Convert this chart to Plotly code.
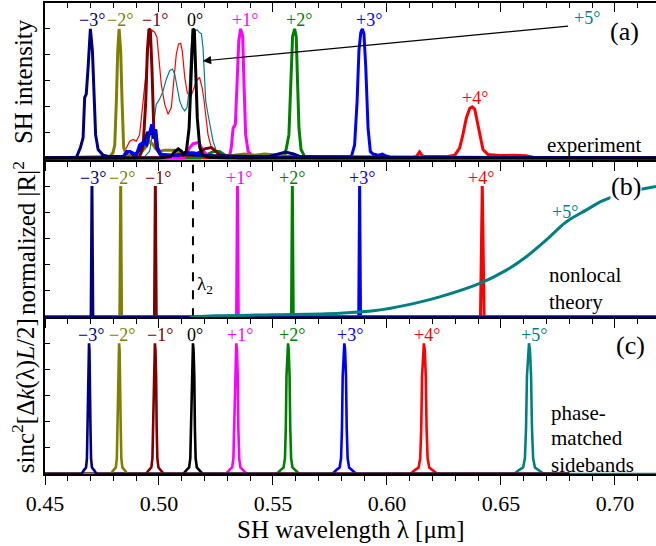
import plotly.graph_objects as go

FONT = "Liberation Serif"

NAVY, OLIVE, MAROON, BLACK = "#000080", "#808000", "#800000", "#000000"
MAGENTA, GREEN, BLUE, RED, TEAL = "#FF00FF", "#008000", "#0000FF", "#FF0000", "#008080"

X_RANGE = [0.45, 0.718]

# ---------------- panel (a): experiment ----------------
A_NAVY_X = [0.450, 0.4638, 0.4655, 0.4667, 0.4674, 0.4681, 0.4689, 0.4699, 0.4708, 0.4715, 0.4722, 0.4733,
            0.4755, 0.4784, 0.4840, 0.4860, 0.4872, 0.4890, 0.4915, 0.4935, 0.4950, 0.4959, 0.4968, 0.4975,
            0.4986, 0.4995, 0.5010, 0.5060, 0.5120, 0.5160, 0.5250, 0.5400, 0.5480, 0.5520, 0.5555, 0.5590,
            0.5620, 0.5800, 0.718]
A_NAVY_Y = [0, 0.005, 0.078, 0.156, 0.468, 0.494, 0.70, 1.0, 0.83, 0.44, 0.18, 0.065,
            0.02, 0.01, 0.01, 0.04, 0.05, 0.02, 0.06, 0.12, 0.20, 0.18, 0.24, 0.15,
            0.22, 0.06, 0.02, 0.02, 0.03, 0.02, 0.015, 0.01, 0.01, 0.03, 0.045, 0.03,
            0.01, 0.005, 0]

A_OLIVE_X = [0.450, 0.4784, 0.4798, 0.4806, 0.4813, 0.4819, 0.4825, 0.4832, 0.4838, 0.4845, 0.4857, 0.4880,
             0.4915, 0.4940, 0.4959, 0.4975, 0.4986, 0.5000, 0.5025, 0.5069, 0.5090, 0.5112, 0.5179, 0.5266,
             0.5330, 0.5376, 0.5420, 0.5463, 0.5529, 0.5617, 0.718]
A_OLIVE_Y = [0, 0.01, 0.04, 0.10, 0.44, 0.83, 1.0, 0.83, 0.44, 0.08, 0.02, 0.02,
             0.03, 0.08, 0.13, 0.10, 0.07, 0.05, 0.06, 0.06, 0.04, 0.02, 0.02, 0.01,
             0.02, 0.03, 0.02, 0.03, 0.02, 0.0, 0]

A_MAROON_X = [0.450, 0.4900, 0.4915, 0.4930, 0.4942, 0.4949, 0.4956, 0.4962, 0.4969, 0.4977, 0.4988, 0.5003,
              0.5050, 0.5150, 0.5185, 0.5200, 0.5230, 0.5245, 0.5270, 0.5350, 0.718]
A_MAROON_Y = [0, 0.0, 0.01, 0.08, 0.44, 0.83, 1.0, 0.99, 0.70, 0.23, 0.08, 0.03,
              0.02, 0.02, 0.05, 0.07, 0.08, 0.06, 0.02, 0.0, 0]

A_BLACK_X = [0.450, 0.5000, 0.5050, 0.5070, 0.5085, 0.5100, 0.5105, 0.5120, 0.5132, 0.5139, 0.5145, 0.5149,
             0.5155, 0.5161, 0.5168, 0.5179, 0.5193, 0.5215, 0.5300, 0.718]
A_BLACK_Y = [0, 0.0, 0.01, 0.05, 0.07, 0.05, 0.03, 0.05, 0.23, 0.57, 0.91, 1.0,
             0.99, 0.70, 0.31, 0.08, 0.02, 0.005, 0.0, 0]

A_MAGENTA_X = [0.450, 0.5110, 0.5135, 0.5150, 0.5175, 0.5195, 0.5220, 0.5310, 0.5317, 0.5325, 0.5335, 0.5342,
               0.5350, 0.5358, 0.5367, 0.5373, 0.5380, 0.5391, 0.5412, 0.718]
A_MAGENTA_Y = [0, 0.0, 0.08, 0.11, 0.12, 0.05, 0.01, 0.01, 0.08, 0.23, 0.26, 0.57,
               0.91, 1.0, 0.94, 0.57, 0.18, 0.05, 0.01, 0]

A_GREEN_X = [0.450, 0.5180, 0.5215, 0.5240, 0.5265, 0.5290, 0.5400, 0.5551, 0.5559, 0.5570, 0.5578, 0.5586,
             0.5595, 0.5602, 0.5608, 0.5614, 0.5623, 0.5639, 0.5700, 0.718]
A_GREEN_Y = [0, 0.0, 0.03, 0.05, 0.05, 0.02, 0.01, 0.01, 0.08, 0.18, 0.57, 0.94,
             1.0, 0.94, 0.57, 0.23, 0.065, 0.01, 0.0, 0]

A_BLUE_X = [0.450, 0.4840, 0.4859, 0.4872, 0.4885, 0.4900, 0.4915, 0.4930, 0.4946, 0.4958, 0.4968, 0.4975,
            0.4981, 0.4994, 0.5010, 0.5080, 0.5120, 0.5150, 0.5180, 0.5220, 0.5400, 0.5844, 0.5858, 0.5869,
            0.5877, 0.5885, 0.5892, 0.5899, 0.5907, 0.5917, 0.5927, 0.5939, 0.5961, 0.5980, 0.5990, 0.6012,
            0.718]
A_BLUE_Y = [0, 0.0, 0.05, 0.05, 0.04, 0.02, 0.10, 0.12, 0.10, 0.20, 0.26, 0.20,
            0.22, 0.08, 0.02, 0.02, 0.04, 0.04, 0.03, 0.01, 0.0, 0.01, 0.10, 0.44,
            0.83, 0.97, 1.0, 0.96, 0.70, 0.23, 0.05, 0.03, 0.02, 0.03, 0.02, 0.005,
            0]

A_RED_X = [0.450, 0.6100, 0.6129, 0.6143, 0.6158, 0.6260, 0.6297, 0.6319, 0.6333, 0.6348, 0.6363, 0.6374,
           0.6385, 0.6395, 0.6407, 0.6421, 0.6443, 0.6494, 0.6553, 0.6611, 0.6640, 0.718]
A_RED_Y = [0, 0.0, 0.01, 0.047, 0.01, 0.01, 0.02, 0.078, 0.18, 0.31, 0.385, 0.395,
           0.377, 0.286, 0.18, 0.065, 0.026, 0.018, 0.02, 0.016, 0.005, 0]

A_RED_THIN_X = [0.4842, 0.4857, 0.4872, 0.4886, 0.4901, 0.4915, 0.4926, 0.4937, 0.4948, 0.4959, 0.4971, 0.4981,
                0.4991, 0.5000, 0.5010, 0.5025, 0.5040, 0.5054, 0.5065, 0.5076, 0.5086, 0.5095, 0.5102, 0.5113,
                0.5124, 0.5138, 0.5149, 0.5164, 0.5178, 0.5189, 0.5196, 0.5205, 0.5215, 0.5222, 0.5230, 0.5244,
                0.5259, 0.5281]
A_RED_THIN_Y = [0.01, 0.078, 0.13, 0.143, 0.13, 0.18, 0.364, 0.571, 0.779, 0.935, 0.987, 0.974,
                0.935, 0.753, 0.571, 0.416, 0.338, 0.39, 0.571, 0.805, 0.883, 0.888, 0.831, 0.623,
                0.506, 0.468, 0.519, 0.597, 0.623, 0.545, 0.468, 0.338, 0.18, 0.13, 0.078, 0.065,
                0.026, 0.01]

A_TEAL_THIN_X = [0.4937, 0.4959, 0.4971, 0.4981, 0.4988, 0.4997, 0.5006, 0.5018, 0.5032, 0.5047, 0.5059, 0.5069,
                 0.5079, 0.5091, 0.5102, 0.5113, 0.5123, 0.5132, 0.5139, 0.5146, 0.5157, 0.5167, 0.5176, 0.5186,
                 0.5193, 0.5200, 0.5205, 0.5215, 0.5225, 0.5237, 0.5252, 0.5266, 0.5295]
A_TEAL_THIN_Y = [0.01, 0.052, 0.18, 0.31, 0.416, 0.44, 0.468, 0.519, 0.61, 0.675, 0.688, 0.649,
                 0.545, 0.44, 0.39, 0.364, 0.39, 0.519, 0.805, 0.961, 0.982, 0.992, 0.974, 0.961,
                 0.857, 0.571, 0.44, 0.338, 0.234, 0.13, 0.052, 0.018, 0.005]

A_LABELS = ["−3°", "−2°", "−1°", "0°", "+1°", "+2°", "+3°", "+4°", "+5°"]
A_LABEL_X = [0.4706, 0.4828, 0.4982, 0.5157, 0.5379, 0.5613, 0.5920, 0.6385, 0.6878]
A_LABEL_Y = [1.068, 1.068, 1.068, 1.068, 1.068, 1.068, 1.068, 0.464, 1.081]
A_LABEL_COLORS = [NAVY, OLIVE, MAROON, BLACK, MAGENTA, GREEN, BLUE, RED, TEAL]
A_ARROW_FROM = (0.6801, 1.022)
A_ARROW_TO = (0.5192, 0.751)

# ---------------- panel (b): nonlocal theory ----------------
B_CENTERS = [0.4706, 0.4832, 0.4984, 0.5344, 0.5585, 0.5880, 0.6418]
B_HALFWIDTH = [0.0004, 0.0004, 0.0004, 0.0004, 0.0004, 0.0004, 0.0008]
B_PEAK = 1.0
B_COLORS = [NAVY, OLIVE, MAROON, MAGENTA, GREEN, BLUE, RED]
B_LABELS = ["−3°", "−2°", "−1°", "+1°", "+2°", "+3°", "+4°"]
B_LABEL_X = [0.4711, 0.4838, 0.4996, 0.5351, 0.5583, 0.5890, 0.6414]
B_LABEL_Y = 1.063
B5_X = [0.5135, 0.5252, 0.5500, 0.5793, 0.5950, 0.6085, 0.6231, 0.6407, 0.6524, 0.6611, 0.6699, 0.6787,
        0.6875, 0.6947, 0.7050, 0.718]
B5_Y = [0.0, 0.01, 0.018, 0.03, 0.05, 0.092, 0.155, 0.258, 0.359, 0.461, 0.589, 0.728,
        0.818, 0.889, 0.95, 0.996]
B5_LABEL = (0.6782, 0.80)
LAMBDA2 = 0.5149
LAMBDA2_TOP = 1.162

# ---------------- panel (c): phase-matched sidebands ----------------
C_CENTERS = [0.4693, 0.4825, 0.4982, 0.5149, 0.5339, 0.5566, 0.5813, 0.6162, 0.6623]
C_WIDTH_SCALE = [0.5, 0.55, 0.6, 0.65, 0.7, 0.75, 0.8, 0.9, 1.0]
C_COLORS = [NAVY, OLIVE, MAROON, BLACK, MAGENTA, GREEN, BLUE, RED, TEAL]
C_LABELS = ["−3°", "−2°", "−1°", "0°", "+1°", "+2°", "+3°", "+4°", "+5°"]
C_LABEL_X = [0.4703, 0.4838, 0.5006, 0.5160, 0.5357, 0.5583, 0.5836, 0.6176, 0.6643]
C_LABEL_Y = 1.063
PROFILE_DX = [-0.0066, -0.0044, -0.0026, -0.0018, -0.0013, -0.0009, -0.0004, 0.0,
              0.0004, 0.0009, 0.0013, 0.0018, 0.0026, 0.0044, 0.0066]
PROFILE_Y = [0.0, 0.03, 0.05, 0.12, 0.35, 0.75, 0.95, 1.0, 0.95, 0.75, 0.35, 0.12, 0.05, 0.03, 0.0]

fig = go.Figure()


def line(x, y, color, width, xa, ya, dash=None, shape="linear"):
    fig.add_trace(go.Scatter(x=x, y=y, mode="lines", xaxis=xa, yaxis=ya,
                             line=dict(color=color, width=width, dash=dash, shape=shape),
                             hoverinfo="skip", showlegend=False))


# panel (a)
line(A_RED_THIN_X, A_RED_THIN_Y, RED, 1.2, "x", "y")
line(A_TEAL_THIN_X, A_TEAL_THIN_Y, TEAL, 1.2, "x", "y")
for xs, ys, c in [(A_RED_X, A_RED_Y, RED), (A_GREEN_X, A_GREEN_Y, GREEN),
                  (A_MAGENTA_X, A_MAGENTA_Y, MAGENTA), (A_OLIVE_X, A_OLIVE_Y, OLIVE),
                  (A_MAROON_X, A_MAROON_Y, MAROON), (A_NAVY_X, A_NAVY_Y, NAVY),
                  (A_BLUE_X, A_BLUE_Y, BLUE), (A_BLACK_X, A_BLACK_Y, BLACK)]:
    line(xs, ys, c, 3, "x", "y")

# panel (b)  (drawn from last to first so that the navy baseline ends on top)
for c, hw, col in reversed(list(zip(B_CENTERS, B_HALFWIDTH, B_COLORS))):
    line([X_RANGE[0], c - hw, c, c + hw, X_RANGE[1]], [0, 0, B_PEAK, 0, 0], col, 3, "x2", "y2")
line([LAMBDA2, LAMBDA2], [0, LAMBDA2_TOP], BLACK, 2, "x2", "y2", dash="dash")
line(B5_X, B5_Y, TEAL, 3, "x2", "y2", shape="spline")

# panel (c)
for i in [8, 7, 6, 5, 4, 3, 2, 1, 0]:
    c, s, col = C_CENTERS[i], C_WIDTH_SCALE[i], C_COLORS[i]
    xs = [c + s * d for d in PROFILE_DX]
    if i == 8:
        xs = [0.60] + xs + [X_RANGE[1]]
    else:
        xs = [X_RANGE[0]] + xs + [0.68]
    ys = [0] + PROFILE_Y + [0]
    line(xs, ys, col, 2.6, "x3", "y3")

# dummy for top axis
fig.add_trace(go.Scatter(x=[0.5], y=[None], xaxis="x4", yaxis="y", showlegend=False, hoverinfo="skip"))

ann = []


def text(x, y, s, color="black", size=18, xref="x", yref="y", xanchor="center", yanchor="middle", **kw):
    ann.append(dict(x=x, y=y, text=s, xref=xref, yref=yref, showarrow=False, xanchor=xanchor,
                    yanchor=yanchor, font=dict(family=FONT, size=size, color=color), **kw))


for s, x, y, c in zip(A_LABELS, A_LABEL_X, A_LABEL_Y, A_LABEL_COLORS):
    text(x, y, s, c)
ann.append(dict(x=A_ARROW_TO[0], y=A_ARROW_TO[1], ax=A_ARROW_FROM[0], ay=A_ARROW_FROM[1],
                xref="x", yref="y", axref="x", ayref="y", text="", showarrow=True,
                arrowhead=2, arrowsize=1.4, arrowwidth=1.2, arrowcolor="black"))
text(0.7043, 0.977, "(a)", size=26)
text(0.6911, 0.10, "experiment", size=21)

for s, x, c in zip(B_LABELS, B_LABEL_X, B_COLORS):
    text(x, B_LABEL_Y, s, c, yref="y2")
text(B5_LABEL[0], B5_LABEL[1], "+5°", TEAL, yref="y2")
text(0.7047, 0.996, "(b)", size=26, yref="y2", bgcolor="white", borderpad=0)
text(0.5157, 0.245, "λ<sub>2</sub>", size=19, yref="y2", xanchor="left")
text(0.6702, 0.321, "nonlocal", size=21, yref="y2", xanchor="left")
text(0.6702, 0.115, "theory", size=21, yref="y2", xanchor="left")

for s, x, c in zip(C_LABELS, C_LABEL_X, C_COLORS):
    text(x, C_LABEL_Y, s, c, yref="y3")
text(0.7069, 0.986, "(c)", size=26, yref="y3")
text(0.6711, 0.466, "phase-", size=21, yref="y3", xanchor="left")
text(0.6711, 0.275, "matched", size=21, yref="y3", xanchor="left")
text(0.6711, 0.069, "sidebands", size=21, yref="y3", xanchor="left")

# axis titles
text(-0.035, 0.8335, "SH intensity", size=25, xref="paper", yref="paper", textangle=-90)
text(-0.035, 0.5, "normalized |R|<sup>2</sup>", size=25, xref="paper", yref="paper", textangle=-90)
text(-0.035, 0.1665, "sinc<sup>2</sup>[Δ<i>k</i>(λ)<i>L</i>/2]", size=25, xref="paper", yref="paper",
     textangle=-90)
text(0.5, -0.117, "SH wavelength λ [μm]", size=25, xref="paper", yref="paper")


def xax(anchor, labels=False, ticks="outside", side="bottom", overlaying=None):
    d = dict(range=X_RANGE, anchor=anchor, domain=[0, 1], side=side, showline=True, linecolor="black",
             linewidth=1.5, ticks=ticks, ticklen=9, tickwidth=1.3, tickcolor="black",
             tick0=0.45, dtick=0.05, tickformat=".2f", showticklabels=labels, showgrid=False,
             zeroline=False, tickfont=dict(family=FONT, size=22, color="black"),
             minor=dict(dtick=0.01, tick0=0.45, ticks=ticks, ticklen=5, tickwidth=1.2,
                        tickcolor="black", showgrid=False))
    if overlaying:
        d["overlaying"] = overlaying
    return d


def yax(domain, rng, anchor):
    return dict(domain=domain, range=rng, anchor=anchor, showline=True, linecolor="black", linewidth=1.5,
                ticks="inside", ticklen=5, tickwidth=1.2, tickcolor="black", dtick=0.2, tick0=0,
                showticklabels=False, showgrid=False, zeroline=False)


fig.update_layout(
    width=656, height=546,
    margin=dict(l=45, r=0, t=3, b=72),
    paper_bgcolor="white", plot_bgcolor="white",
    font=dict(family=FONT, color="black"),
    xaxis=xax("y"),
    xaxis2=xax("y2"),
    xaxis3=xax("y3", labels=True),
    xaxis4=xax("y", ticks="inside", side="top", overlaying="x"),
    yaxis=yax([0.667, 1.0], [-0.015, 1.2], "x"),
    yaxis2=yax([0.333, 0.667], [0, 1.2], "x2"),
    yaxis3=yax([0.0, 0.333], [0, 1.2], "x3"),
    annotations=ann,
    showlegend=False,
)

fig.write_html("out.html", config={"displayModeBar": False},
               post_script="document.body.style.margin='0px';document.body.style.overflow='hidden';")
